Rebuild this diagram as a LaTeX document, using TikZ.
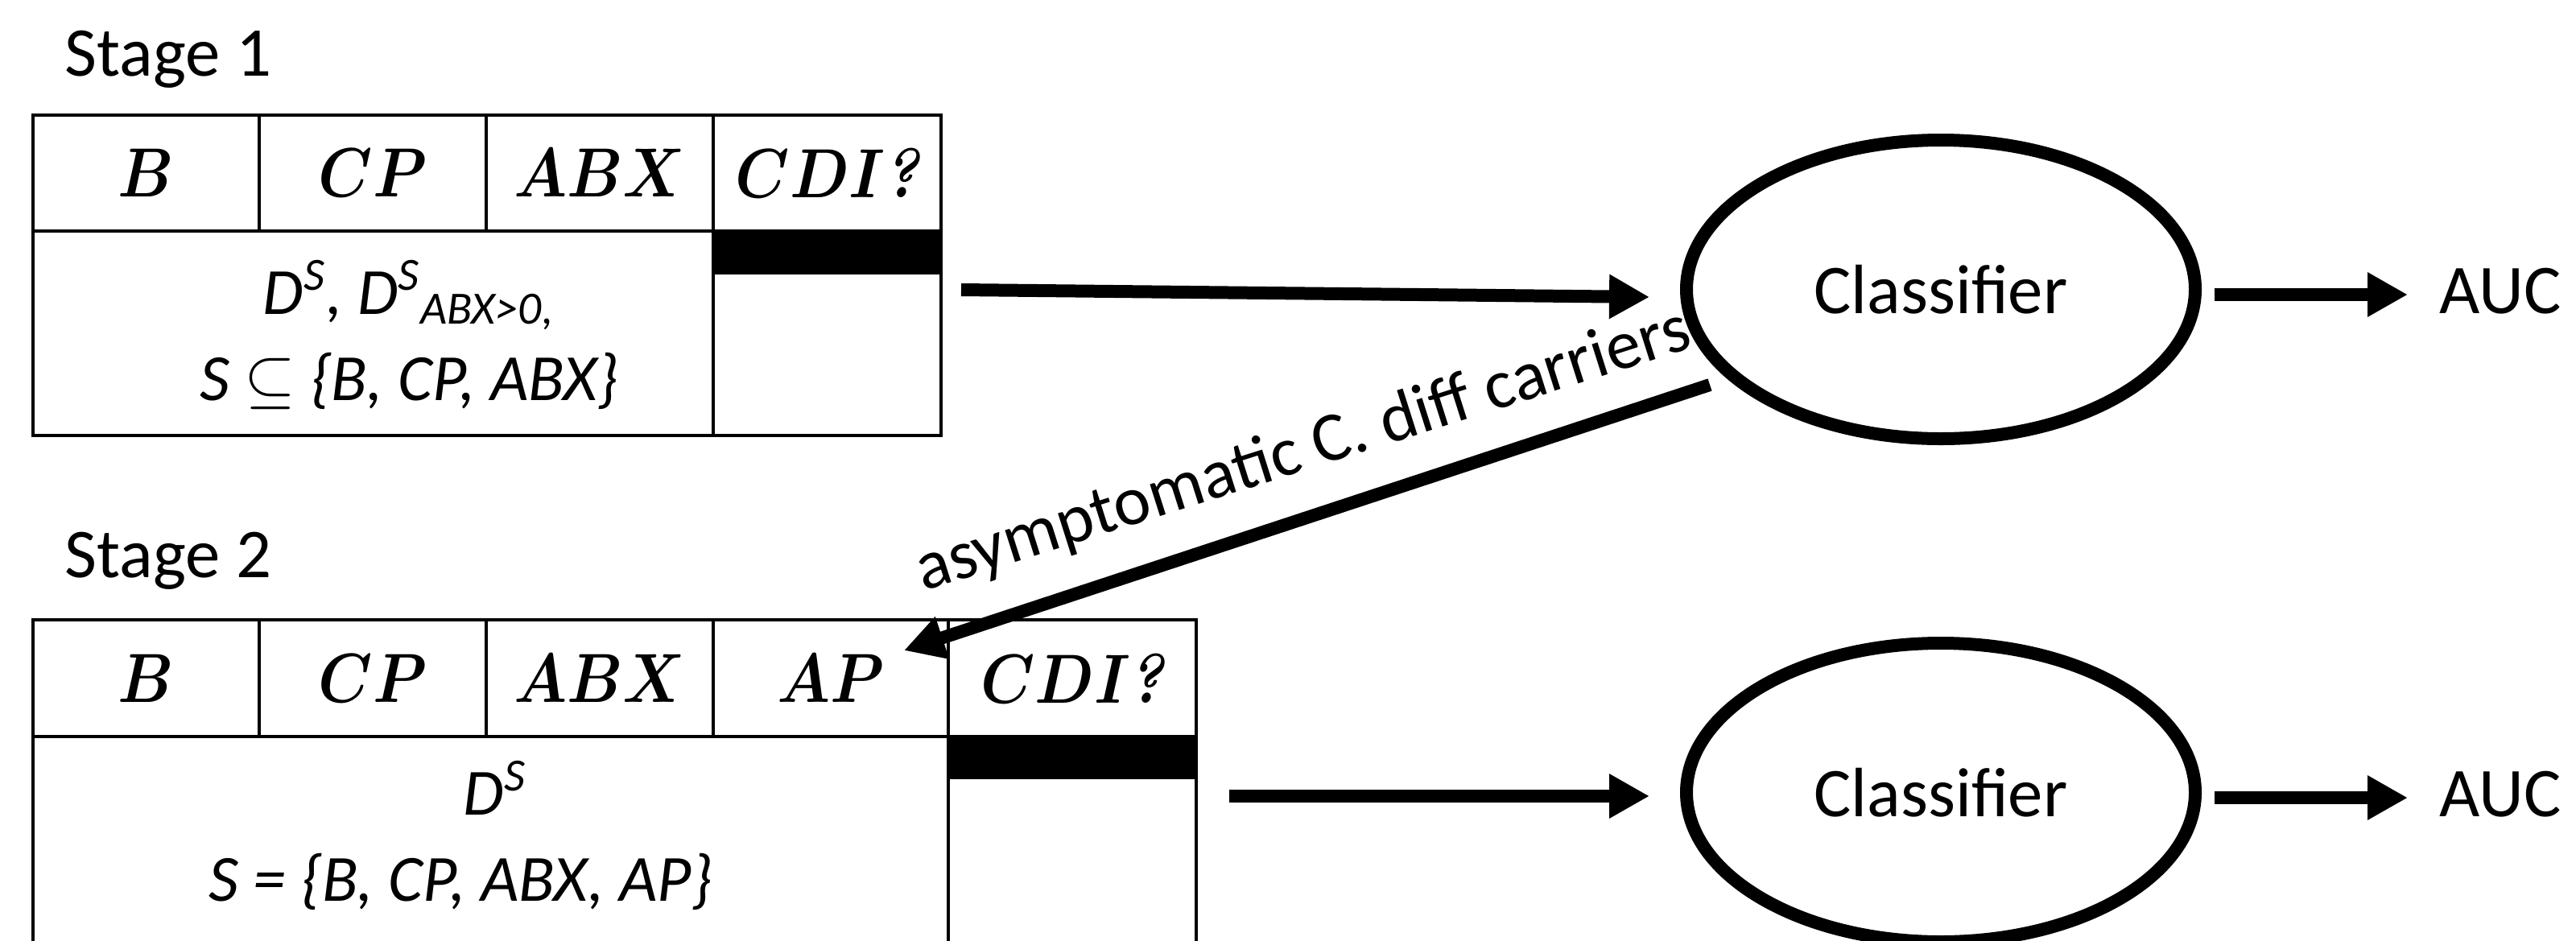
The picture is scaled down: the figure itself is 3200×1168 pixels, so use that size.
\RequirePackage{fix-cm}
\documentclass[tikz,border=0pt]{standalone}
\usepackage{graphicx}
\usepackage{fontspec}
\setmainfont{Carlito}
\newfontfamily\lmrfam{Latin Modern Roman}
\usetikzlibrary{shapes.geometric,arrows.meta}
\newcommand\hdrfont{\fontsize{21.6pt}{26pt}\selectfont}
\newcommand\lblfont{\fontsize{21.7pt}{26pt}\selectfont}
\newcommand\bodyfont{\fontsize{20.5pt}{24pt}\selectfont\itshape}
\newcommand\hdr[1]{\scalebox{0.88}[1]{\boldmath$#1$}}
\newcommand\hdrq{\scalebox{0.88}[1]{\boldmath$CDI$\kern-1pt{\lmrfam\bfseries\itshape ?}}}
\begin{document}
\begin{tikzpicture}[x=0.25pt,y=-0.25pt,
  cell/.style={draw, line width=1.15pt, inner sep=0pt, outer sep=0pt, font=\hdrfont},
  bar/.style={fill=black},
  clf/.style={draw, ellipse, line width=4pt, inner sep=0pt, minimum width=158pt, minimum height=92.75pt, font=\lblfont},
  bigarrow/.style={line width=4pt, -{Triangle[length=12.5pt,width=13pt]}},
  lbl/.style={font=\lblfont, inner sep=0pt},
  bodytxt/.style={font=\bodyfont, inner sep=0pt, anchor=base}
]
\useasboundingbox (0,0) rectangle (3200,1168);
\fill[white] (0,0) rectangle (3200,1168);
\clip (0,0) rectangle (3200,1168);

% ---------- Stage 1 ----------
\node[lbl, anchor=base west] (st1) at (80,94) {Stage 1};
\node[cell, minimum width=70.25pt, minimum height=36pt] (h1b)   at (181.5,215)  {\hdr{B}};
\node[cell, minimum width=70.5pt,  minimum height=36pt] (h1cp)  at (463,215)    {\hdr{CP}};
\node[cell, minimum width=70.5pt,  minimum height=36pt] (h1abx) at (745,215)    {\hdr{ABX}};
\node[cell, minimum width=70.75pt, minimum height=36pt] (h1cdi) at (1027.5,215) {\hdrq};
\node[cell, minimum width=211.25pt, minimum height=63.5pt] (b1)  at (463.5,414) {};
\node[cell, minimum width=70.75pt, minimum height=63.5pt] (c1b) at (1027.5,414) {};
\fill[bar] (886,287) rectangle (1169,341);
\draw[line width=1.15pt] (886,287) rectangle (1169,541);
\node[bodytxt] (b1l1) at (508,390) {D\textsuperscript{S}, D\textsuperscript{S}\textsubscript{ABX>0,}};
\node[bodytxt] (b1l2) at (508,497) {S $\subseteq$ \{B, CP, ABX\}};

% ---------- Stage 2 ----------
\node[lbl, anchor=base west] (st2) at (80,717) {Stage 2};
\node[cell, minimum width=70.25pt, minimum height=36.25pt] (h2b)   at (181.5,842.5) {\hdr{B}};
\node[cell, minimum width=70.5pt,  minimum height=36.25pt] (h2cp)  at (463,842.5)   {\hdr{CP}};
\node[cell, minimum width=70.5pt,  minimum height=36.25pt] (h2abx) at (745,842.5)   {\hdr{ABX}};
\node[cell, minimum width=73pt,    minimum height=36.25pt] (h2ap)  at (1032,842.5)  {\hdr{AP}};
\node[cell, minimum width=77pt,    minimum height=36.25pt] (h2cdi) at (1332,842.5)  {\hdrq};
\node[cell, minimum width=284.25pt, minimum height=75pt] (b2)  at (609.5,1065) {};
\node[cell, minimum width=77pt,    minimum height=75pt] (c2b) at (1332,1065) {};
\fill[bar] (1178,915) rectangle (1486,968);
\node[bodytxt] (b2l1) at (615,1012) {D\textsuperscript{S}};
\node[bodytxt] (b2l2) at (572,1119) {S = \{B, CP, ABX, AP\}};

% ---------- Classifiers ----------
\node[clf] (cl1) at (2411,359.5) {Classifier};
\node[clf] (cl2) at (2411,984.5) {Classifier};
\node[lbl, anchor=base west] (auc1) at (3030,389) {AUC};
\node[lbl, anchor=base west] (auc2) at (3030,1014) {AUC};

% ---------- connectors ----------
\coordinate (a1s) at (1194,360);
\coordinate (a1e) at (2049,369);
\draw[bigarrow] (a1s) -- (a1e);
\coordinate (a2s) at (1527,989);
\coordinate (a2e) at (2049,989);
\draw[bigarrow] (a2s) -- (a2e);
\coordinate (u1s) at (2751,366);
\coordinate (u1e) at (2991,366);
\draw[bigarrow] (u1s) -- (u1e);
\coordinate (u2s) at (2751,991);
\coordinate (u2e) at (2991,991);
\draw[bigarrow] (u2s) -- (u2e);
\coordinate (ds) at (2124,478);
\coordinate (de) at (1123,808);
\draw[bigarrow] (ds) -- (de);
\node[lbl, rotate=17.6] (carr) at (1619,561) {asymptomatic C. diff carriers};
\end{tikzpicture}
\end{document}
